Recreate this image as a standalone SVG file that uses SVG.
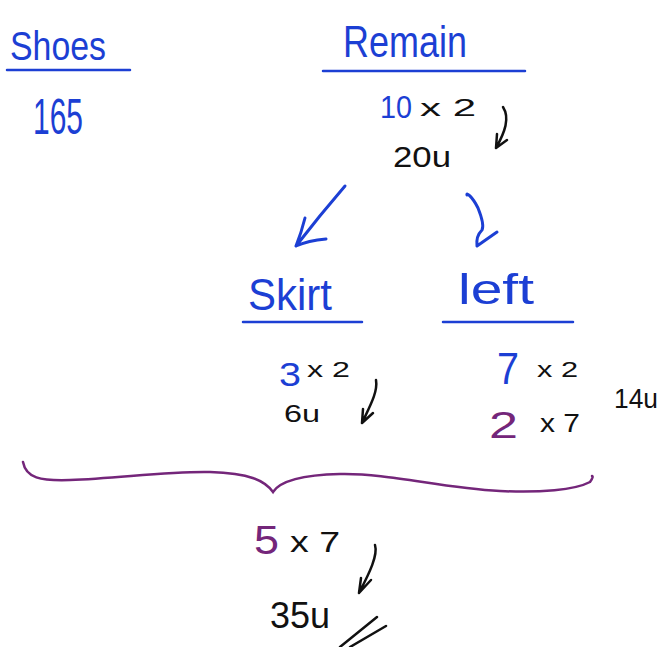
<svg xmlns="http://www.w3.org/2000/svg" width="666" height="647" viewBox="0 0 666 647">
<defs>
<style>
text{font-family:"Liberation Sans","DejaVu Sans",sans-serif;font-weight:normal}
.b{fill:#1c3fd4}
.k{fill:#111}
.p{fill:#74267a}
.ul{stroke:#1c3fd4;stroke-width:2.5;fill:none;stroke-linecap:round}
.ab{stroke:#1c3fd4;stroke-width:3;fill:none;stroke-linecap:round;stroke-linejoin:round}
.ak{stroke:#111;stroke-width:2.5;fill:none;stroke-linecap:round;stroke-linejoin:round}
.ap{stroke:#74267a;stroke-width:2.5;fill:none;stroke-linecap:round}
</style>
</defs>
<rect width="666" height="647" fill="#fff"/>
<g id="shoes">
<text class="b" x="10" y="60" font-size="40" textLength="96" lengthAdjust="spacingAndGlyphs">Shoes</text>
<line class="ul" x1="7" y1="70" x2="130" y2="70"/>
<text class="b" x="33" y="134" font-size="50" textLength="50" lengthAdjust="spacingAndGlyphs">165</text>
</g>
<g id="remain">
<text class="b" x="343" y="57" font-size="44" textLength="124" lengthAdjust="spacingAndGlyphs">Remain</text>
<line class="ul" x1="323" y1="71" x2="525" y2="71"/>
<text class="b" x="380" y="118" font-size="32" textLength="32" lengthAdjust="spacingAndGlyphs">10</text>
<text class="k" x="420" y="116" font-size="24" textLength="56" lengthAdjust="spacingAndGlyphs">x 2</text>
<text class="k" x="393" y="167" font-size="30" textLength="58" lengthAdjust="spacingAndGlyphs">20u</text>
</g>
<g id="skirt">
<text class="b" x="248" y="310" font-size="44" textLength="84" lengthAdjust="spacingAndGlyphs">Skirt</text>
<line class="ul" x1="243" y1="322" x2="362" y2="322"/>
<text class="b" x="279" y="386" font-size="34" textLength="22" lengthAdjust="spacingAndGlyphs">3</text>
<text class="k" x="307" y="377" font-size="22" textLength="43" lengthAdjust="spacingAndGlyphs">x 2</text>
<text class="k" x="284" y="422" font-size="24" textLength="36" lengthAdjust="spacingAndGlyphs">6u</text>
</g>
<g id="left">
<text class="b" x="458" y="304" font-size="42" textLength="76" lengthAdjust="spacingAndGlyphs">left</text>
<line class="ul" x1="443" y1="322" x2="573" y2="322"/>
<text class="b" x="497" y="384" font-size="44" textLength="22" lengthAdjust="spacingAndGlyphs">7</text>
<text class="k" x="537" y="377" font-size="22" textLength="41" lengthAdjust="spacingAndGlyphs">x 2</text>
<text class="p" x="489" y="438" font-size="36" textLength="29" lengthAdjust="spacingAndGlyphs">2</text>
<text class="k" x="540" y="432" font-size="26" textLength="40" lengthAdjust="spacingAndGlyphs">x 7</text>
<text class="k" x="614" y="408" font-size="28" textLength="44" lengthAdjust="spacingAndGlyphs">14u</text>
</g>
<g id="total">
<text class="p" x="254" y="554" font-size="40" textLength="25" lengthAdjust="spacingAndGlyphs">5</text>
<text class="k" x="290" y="552" font-size="30" textLength="50" lengthAdjust="spacingAndGlyphs">x 7</text>
<text class="k" x="270" y="628" font-size="36" textLength="60" lengthAdjust="spacingAndGlyphs">35u</text>
</g>
<g id="connectors">
<path class="ak" d="M503,107 C510,118 505,132 496,148 M496,148 L497,134 M496,148 L507,140"/>
<path class="ab" d="M345,186 Q320,215 296,246 M296,246 C300,236 303,226 305,218 M296,246 C305,242 315,240 326,239"/>
<path class="ab" d="M467,195 C466,192 472,196 478,208 C482,218 484,226 482,230 C478,234 476,238 477,246 L497,232"/>
<path class="ak" d="M376,380 C378,392 370,406 362,423 M362,423 L363,409 M362,423 L373,413"/>
<path class="ak" d="M375,545 C378,555 370,572 359,593 M359,593 L361,578 M359,593 L371,580"/>
<path class="ak" d="M340,647 L377,617 M350,647 L386,626"/>
<path class="ap" d="M23,462 C26,478 40,481 70,480 C120,478 170,471 210,472 C250,473 265,481 273,492 C280,481 300,475 340,474 C390,473 440,488 500,491 C540,493 575,490 590,482 C593,478 593,476 592,476"/>
</g>
</svg>
